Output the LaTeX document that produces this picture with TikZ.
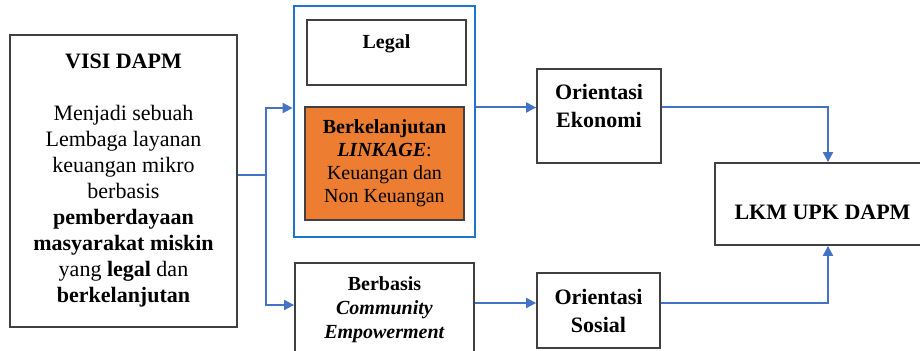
\documentclass[tikz,border=0pt]{standalone}
\usepackage{fontspec}
\setmainfont{Liberation Serif}
\usetikzlibrary{arrows.meta}
\definecolor{linkblue}{RGB}{68,114,196}
\definecolor{grpblue}{RGB}{30,117,205}
\definecolor{linkorange}{RGB}{237,125,49}
\tikzset{
	box/.style={draw=black!75, line width=0.9pt, align=center, inner sep=1pt},
	arr/.style={draw=linkblue, line width=1pt, -{Triangle[length=5pt,width=5pt]}},
}

\begin{document}
\begin{tikzpicture}[x=0.5pt,y=-0.5pt]
	\useasboundingbox (0,0) rectangle (920,351);
	\clip (0,0) rectangle (920,351);
	\node[box, minimum width=113.5pt, minimum height=146pt, font=\fontsize{11}{13}\selectfont] (visi) at (123.5,181) {\textbf{VISI DAPM}\\[13pt]Menjadi sebuah\\Lembaga layanan\\keuangan mikro\\berbasis\\\textbf{pemberdayaan}\\\textbf{masyarakat miskin}\\yang \textbf{legal} dan\\\textbf{berkelanjutan}};%visi
	\node[draw=grpblue, line width=1.4pt, minimum width=90.5pt, minimum height=115.5pt] (grp) at (384.5,121.5) {};%frame
	\node[box, minimum width=79.5pt, minimum height=32.5pt, font=\bfseries\fontsize{10}{12}\selectfont] (legal) at (386.5,52.5) {Legal\\[-1.5pt]\mbox{}};%legal
	\node[box, fill=linkorange, minimum width=79.5pt, minimum height=56.5pt, font=\fontsize{10}{11.5}\selectfont] (link) at (384.5,163.5) {\textbf{Berkelanjutan}\\\textbf{\textit{LINKAGE}}:\\Keuangan dan\\Non Keuangan};%linkage
	\node[box, minimum width=89.5pt, minimum height=47pt, font=\fontsize{10}{12}\selectfont] (basis) at (384.5,310) {\textbf{Berbasis}\\\textbf{\textit{Community}}\\\textbf{\textit{Empowerment}}};%community
	\node[box, minimum width=62pt, minimum height=47pt, font=\bfseries\fontsize{11}{14}\selectfont] (ekon) at (599,116) {Orientasi\\Ekonomi\\[-4pt]\mbox{}};%ekonomi
	\node[box, minimum width=61.5pt, minimum height=37.5pt, font=\bfseries\fontsize{11}{14}\selectfont] (sosial) at (598.5,310.5) {Orientasi\\Sosial};%sosial
	\node[box, align=none, minimum width=107.5pt, minimum height=41pt, text height=15.5pt, text depth=0pt, font=\bfseries\fontsize{11}{13}\selectfont] (lkm) at (822.5,204) {LKM UPK DAPM};%lkm
	\draw[arr, -] ([yshift=3pt]visi.east) -- ++(14pt,0) coordinate (fork);
	\draw[arr] (fork) |- ([yshift=6.75pt]grp.west);
	\draw[arr] (fork) |- ([yshift=2.5pt]basis.west);
	\draw[arr] ([yshift=7pt]grp.east) coordinate (e1) -- (ekon.west |- e1);
	\draw[arr] (ekon.east |- e1) -| ([xshift=2.75pt]lkm.north);
	\draw[arr] ([yshift=3.5pt]basis.east) coordinate (e2) -- (sosial.west |- e2);
	\draw[arr] (sosial.east |- e2) -| ([xshift=2.75pt]lkm.south);
\end{tikzpicture}
\end{document}
